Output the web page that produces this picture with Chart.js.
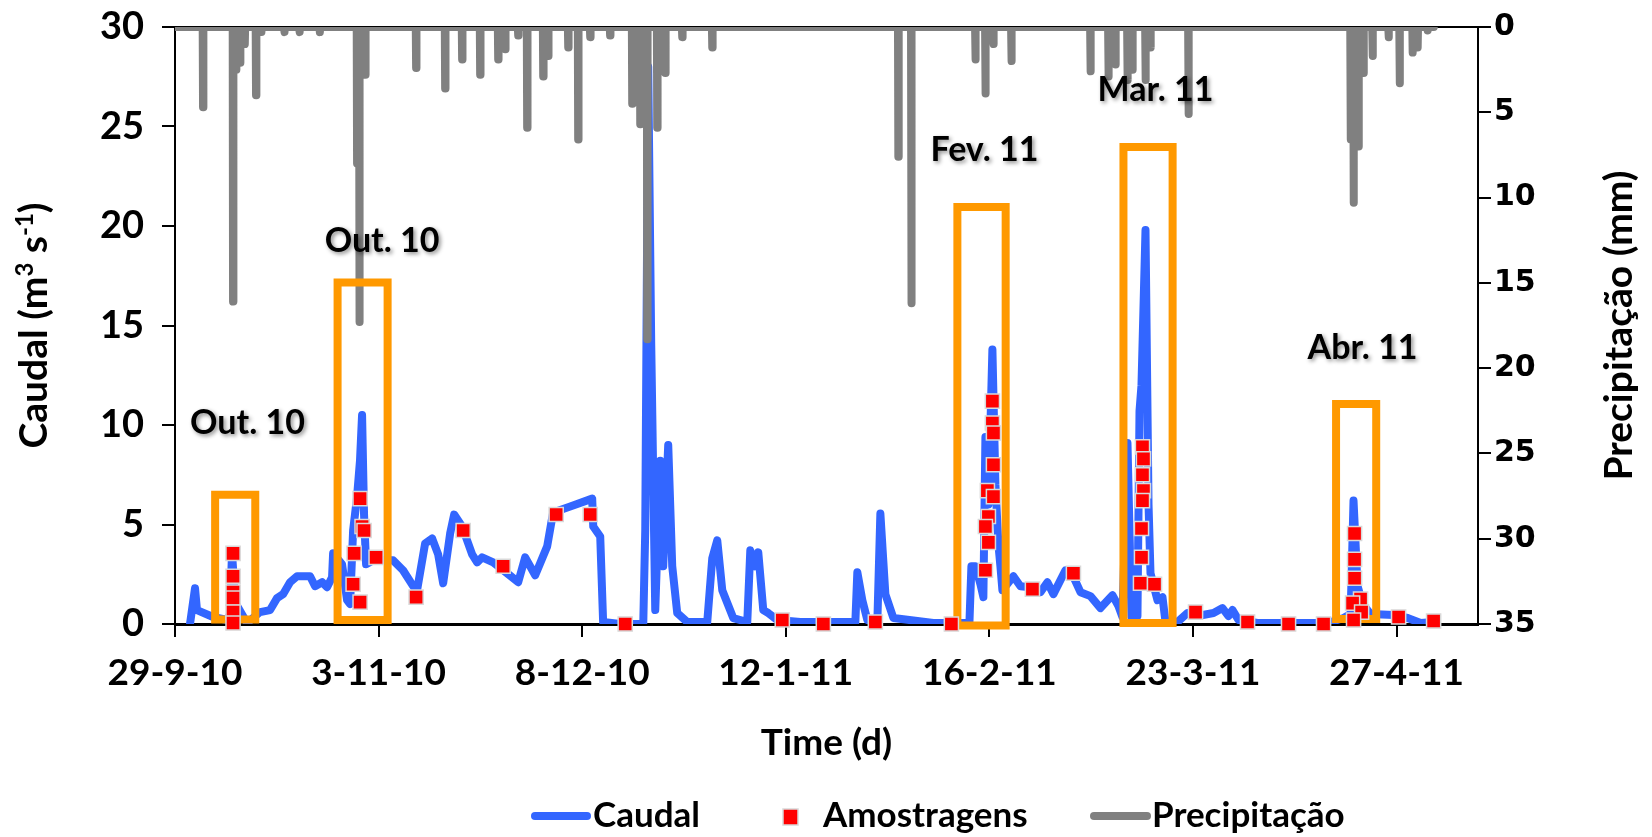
<!DOCTYPE html>
<html><head><meta charset="utf-8">
<script src="https://cdn.jsdelivr.net/npm/chart.js@4.4.0/dist/chart.umd.min.js"></script>
<style>html,body{margin:0;padding:0;background:#fff;}canvas{display:block;}</style>
</head><body>
<canvas id="c" width="1652" height="837"></canvas>
<script>
// ---- data (x in days since 29-9-2010) ----
const tickDays = [0, 35, 70, 105, 140, 175, 210];
const tickLabels = ['29-9-10', '3-11-10', '8-12-10', '12-1-11', '16-2-11', '23-3-11', '27-4-11'];
const xMaxDay = 224;

const caudal = [[2.58,0],[3.44,1.8],[3.78,0.7],[6.54,0.35],[8.94,0.2],[9.46,0.5],[9.8,3.6],[10.15,2.0],[10.5,1.0],[12.38,0.05],
[14.62,0.6],[16.34,0.7],[17.54,1.3],[18.58,1.5],[19.78,2.1],[20.98,2.4],[23.22,2.4],[24.08,1.9],[25.28,2.1],[26.14,1.85],
[27.0,2.35],[27.18,3.55],[28.72,3.0],[29.58,1.2],[30.1,1.0],[30.62,4.7],[31.3,6.4],[31.8,8.2],[32.16,10.5],[32.5,5.5],
[32.85,3.0],[34.06,3.2],[37.5,3.2],[39.2,2.7],[40.94,1.9],[41.62,1.7],[43.0,4.05],[44.2,4.3],[45.24,3.5],[46.1,2.05],
[47.3,4.55],[47.99,5.5],[49.36,4.9],[51.08,3.5],[51.94,3.1],[52.8,3.35],[54.7,3.1],[57.1,2.55],[59.0,2.1],[60.2,3.35],
[61.92,2.45],[63.98,3.9],[65.0,5.6],[67.94,5.9],[71.72,6.3],[71.9,4.9],[73.1,4.4],[73.6,0.1],[76.5,0.0],[80.5,0.0],
[80.84,4.7],[81.35,28],[81.87,14],[82.56,0.7],[83.42,8.2],[83.93,2.9],[84.79,9.0],[85.48,2.9],[86.34,0.55],[88.06,0.1],
[91.5,0.1],[92.36,3.3],[93.22,4.2],[94.08,1.7],[95.97,0.3],[98.38,0.1],[98.9,3.7],[99.76,2.9],[100.27,3.6],[101.13,0.7],
[101.99,0.55],[103.54,0.2],[107.5,0.1],[116.96,0.1],[117.3,2.6],[118.16,1.2],[119.02,0.2],[120.74,0.1],[121.26,5.55],[122.12,1.5],
[123.5,0.3],[130.38,0.05],[136.57,0.05],[136.91,2.9],[137.6,2.9],[138.46,2.0],[138.97,1.35],[139.32,9.4],[139.83,6.0],[140.52,13.8],
[141.04,7.0],[141.55,4.0],[141.9,2.9],[142.24,1.7],[144.13,2.4],[145.34,1.9],[147.06,1.85],[148.78,1.6],[149.98,2.1],[151.01,1.5],
[153.08,2.7],[153.94,2.7],[155.66,1.6],[157.38,1.4],[159.1,0.8],[161.16,1.45],[162.19,0.9],[162.88,0.35],[163.74,9.1],[164.43,0.35],
[165.46,0.4],[165.81,10.7],[166.15,12],[166.84,19.8],[167.36,6],[167.7,2.55],[168.9,1.2],[169.76,1.35],[170.28,0.1],[172.34,0.1],
[174.06,0.55],[175.78,0.4],[178.53,0.55],[180.08,0.8],[181.11,0.4],[181.8,0.7],[182.83,0.2],[186.1,0.05],[198.14,0.05],[200.89,0.3],
[202.1,0.5],[202.6,6.2],[203.3,1.9],[204.16,1.0],[205.54,0.5],[209.49,0.45],[211.9,0.3],[214.14,0.05],[216.37,0.1]];

const amostragens = [[9.98,3.55],[9.98,2.4],[9.98,1.6],[9.98,1.3],[9.98,0.6],[9.98,0.05],
[31.82,6.3],[32.16,4.9],[32.5,4.7],[30.79,3.55],[34.57,3.35],[30.62,2.0],[31.82,1.1],
[41.45,1.35],[49.54,4.7],[56.41,2.9],[65.53,5.5],[71.38,5.5],[77.4,0],
[104.4,0.2],[111.46,0],[120.4,0.1],[133.47,0],
[140.52,11.2],[140.52,10.1],[140.7,9.6],[140.7,8.0],[139.66,6.7],[140.7,6.4],[139.83,5.4],[139.32,4.9],[139.83,4.1],[139.32,2.7],
[147.4,1.75],[154.45,2.55],
[166.32,8.9],[166.49,8.3],[166.32,7.5],[166.49,6.7],[166.32,6.2],[166.15,4.8],[166.15,3.35],[165.98,2.05],[168.39,2.0],
[175.44,0.6],[184.38,0.1],[191.43,0],[197.45,0],
[202.78,4.55],[202.78,3.25],[202.78,2.3],[203.81,1.25],[202.44,1.05],[203.99,0.6],[202.61,0.2],
[210.35,0.35],[216.37,0.15]];

const precipitacao = [[4.82,4.7],[9.98,16.1],[10.49,2.5],[11.18,2.1],[12.0,1.0],[13.93,4.0],
[14.8,0.3],[18.8,0.3],[21.4,0.3],[24.9,0.3],
[31.3,8],[31.7,17.3],[32.7,2.8],
[41.45,2.4],[46.44,3.6],[49.36,1.9],[52.46,2.8],[55.56,1.9],[56.76,1.3],[59.0,0.5],[60.54,5.9],[63.3,2.9],[64.15,1.7],
[67.6,1.2],[69.31,6.6],[71.38,0.6],[74.8,0.5],[78.6,4.5],[79.98,5.7],[81.18,18.3],[82.9,5.9],[84.28,2.7],[87.2,0.6],[92.36,1.2],
[124.35,7.6],[126.59,16.2],[137.6,1.9],[139.32,3.9],[140.7,1.0],[143.79,2.0],[157.38,2.6],[160.47,2.9],[161.68,2.2],
[163.74,3.1],[164.6,2.5],[166.84,3.1],[167.7,1.2],[174.23,5.1],
[202.1,6.6],[202.61,10.3],[203.47,7.0],[204.33,2.7],[205.88,1.7],[208.63,0.6],[210.53,3.3],[212.77,1.5],[213.63,1.2],[215.35,0.2]];
const precipEndDay = 216.4;

// highlighted sampling events: [startDay, endDay, bottomValue, topValue]
const eventBoxes = [[6.9,13.8,0.23,6.5],[27.95,36.55,0.2,17.16],[134.5,142.8,-0.08,20.95],[163.05,171.5,0.05,23.97],[199.6,206.5,0.25,11.06]];
const eventLabels = ['Out. 10', 'Out. 10', 'Fev. 11', 'Mar. 11', 'Abr. 11'];
const eventLabelDays = [12.47, 35.6, 139.15, 168.56, 204.16];
const eventLabelValues = [10.1, 19.25, 23.82, 26.83, 13.87];

// ---- styles ----
const FONT = 'Lato, "Open Sans", "DejaVu Sans", sans-serif';
const WIDE = '"DejaVu Sans", Verdana, sans-serif';
const BLUE = '#3366FF', RED = '#FF0000', GREY = '#808080', ORANGE = '#FF9900';

function precipPoints() {
  const pts = [{x: 0, y: 0}];
  precipitacao.slice().sort((a, b) => a[0] - b[0]).forEach(([d, v]) => {
    pts.push({x: d - 0.06, y: 0}, {x: d, y: v}, {x: d + 0.06, y: 0});
  });
  pts.push({x: precipEndDay, y: 0});
  return pts;
}

const boxDatasets = eventBoxes.map(([d0, d1, v0, v1]) => ({
  label: 'box', type: 'line', yAxisID: 'y', order: 1,
  data: [{x:d0,y:v1},{x:d1,y:v1},{x:d1,y:v0},{x:d0,y:v0},{x:d0,y:v1},{x:d1,y:v1}],
  borderColor: ORANGE, borderWidth: 8, pointRadius: 0, tension: 0,
  borderJoinStyle: 'miter', borderCapStyle: 'butt', clip: false, fill: false
}));

function drawRich(ctx, parts, cx, cy, size) {
  const big = `bold ${size}px ${FONT}`, small = `bold ${Math.round(size * 0.62)}px ${FONT}`;
  ctx.save();
  ctx.translate(cx, cy);
  ctx.rotate(-Math.PI / 2);
  ctx.fillStyle = '#000';
  ctx.textBaseline = 'alphabetic';
  ctx.textAlign = 'left';
  const widths = parts.map(p => { ctx.font = p[1] ? small : big; return ctx.measureText(p[0]).width; });
  let xx = -widths.reduce((a, b) => a + b, 0) / 2;
  const base = size * 0.36;
  parts.forEach((p, i) => {
    ctx.font = p[1] ? small : big;
    ctx.fillText(p[0], xx, p[1] ? base - size * 0.36 : base);
    xx += widths[i];
  });
  ctx.restore();
}

const decor = {
  id: 'decor',
  beforeDatasetsDraw(chart) {
    const {ctx, chartArea: a} = chart;
    ctx.save();
    ctx.strokeStyle = '#000'; ctx.lineWidth = 2;
    ctx.beginPath(); ctx.moveTo(a.left, a.top); ctx.lineTo(a.right, a.top); ctx.stroke();
    ctx.restore();
  },
  afterDatasetsDraw(chart) {
    const {ctx, scales: {x, y}} = chart;
    ctx.save();
    ctx.font = `bold 34px ${FONT}`;
    ctx.textAlign = 'center'; ctx.textBaseline = 'middle';
    ctx.shadowColor = 'rgba(0,0,0,0.45)'; ctx.shadowBlur = 4; ctx.shadowOffsetX = 2; ctx.shadowOffsetY = 2;
    ctx.fillStyle = '#000';
    eventLabels.forEach((t, i) => ctx.fillText(t, x.getPixelForValue(eventLabelDays[i]), y.getPixelForValue(eventLabelValues[i])));
    ctx.restore();
  },
  afterDraw(chart) {
    const ctx = chart.ctx;
    const a = chart.chartArea;
    const midY = (a.top + a.bottom) / 2;
    drawRich(ctx, [['Caudal (m', false], ['3', true], [' s', false], ['-1', true], [')', false]], 33, midY, 39);
    drawRich(ctx, [['Precipitação (mm)', false]], 1618, midY, 39);
    // legend
    const ly = 816;
    ctx.save();
    ctx.lineCap = 'round'; ctx.lineWidth = 8;
    ctx.strokeStyle = BLUE; ctx.beginPath(); ctx.moveTo(535, ly); ctx.lineTo(587, ly); ctx.stroke();
    ctx.strokeStyle = GREY; ctx.beginPath(); ctx.moveTo(1094, ly); ctx.lineTo(1147, ly); ctx.stroke();
    ctx.fillStyle = RED; ctx.fillRect(783, 809, 15, 16);
    ctx.strokeStyle = '#D9D9D9'; ctx.lineWidth = 1.5; ctx.strokeRect(783, 809, 15, 16);
    ctx.fillStyle = '#000'; ctx.font = `bold 35px ${FONT}`;
    ctx.textAlign = 'left'; ctx.textBaseline = 'middle';
    ctx.fillText('Caudal', 593, ly);
    ctx.fillText('Amostragens', 823, ly);
    ctx.fillText('Precipitação', 1152, ly);
    ctx.restore();
  }
};

function noPadV(s, w) { s.width = w; s.paddingTop = 0; s.paddingBottom = 0; }

function build() {
  new Chart(document.getElementById('c'), {
    type: 'line',
    data: {
      datasets: [
        {label: 'Amostragens', data: amostragens.map(([d, v]) => ({x: d, y: v})), yAxisID: 'y', order: 0,
         showLine: false, pointStyle: 'rect', pointRadius: 10, backgroundColor: RED, borderColor: '#D9D9D9', borderWidth: 1.5, clip: false},
        ...boxDatasets,
        {label: 'Precipitação', data: precipPoints(), yAxisID: 'y2', order: 2,
         borderColor: GREY, borderWidth: 8, pointRadius: 0, tension: 0, borderJoinStyle: 'round', borderCapStyle: 'round', fill: false},
        {label: 'Caudal', data: caudal.map(([d, v]) => ({x: d, y: v})), yAxisID: 'y', order: 3,
         borderColor: BLUE, borderWidth: 8, pointRadius: 0, tension: 0, borderJoinStyle: 'round', borderCapStyle: 'round', fill: false}
      ]
    },
    options: {
      responsive: false, animation: false, events: [],
      layout: {padding: {top: 27, left: 0, right: 0, bottom: 0}},
      plugins: {legend: {display: false}, tooltip: {enabled: false}},
      scales: {
        x: {
          type: 'linear', position: 'bottom', min: 0, max: xMaxDay,
          afterBuildTicks: s => { s.ticks = tickDays.map(v => ({value: v})); },
          afterFit: s => { s.height = 213; s.paddingLeft = 0; s.paddingRight = 0; },
          ticks: {callback: (v, i) => tickLabels[i], font: {family: FONT, size: 37, weight: 'bold'}, color: '#000', padding: 14, maxRotation: 0, autoSkip: false},
          grid: {drawOnChartArea: false, drawTicks: true, tickLength: 13, color: '#000', lineWidth: 2},
          border: {color: '#000', width: 3},
          title: {display: true, text: 'Time (d)', font: {family: FONT, size: 37, weight: 'bold'}, color: '#000', padding: {top: 72, bottom: 72}}
        },
        y: {
          position: 'left', min: 0, max: 30,
          afterFit: s => noPadV(s, 175),
          ticks: {stepSize: 5, font: {family: FONT, size: 38, weight: 'bold'}, color: '#000', padding: 18},
          grid: {drawOnChartArea: false, drawTicks: true, tickLength: 13, color: '#000', lineWidth: 2},
          border: {color: '#000', width: 2}
        },
        y2: {
          position: 'right', reverse: true, min: 0, max: 35,
          afterFit: s => noPadV(s, 174),
          ticks: {stepSize: 5, font: {family: WIDE, size: 30, weight: 'bold'}, color: '#000', padding: 3},
          grid: {drawOnChartArea: false, drawTicks: true, tickLength: 13, color: '#000', lineWidth: 2},
          border: {color: '#000', width: 2}
        }
      }
    },
    plugins: [decor]
  });
}
if (document.fonts && document.fonts.load) {
  document.fonts.load(`bold 34px Lato`).then(build, build);
} else { build(); }
</script>
</body></html>
